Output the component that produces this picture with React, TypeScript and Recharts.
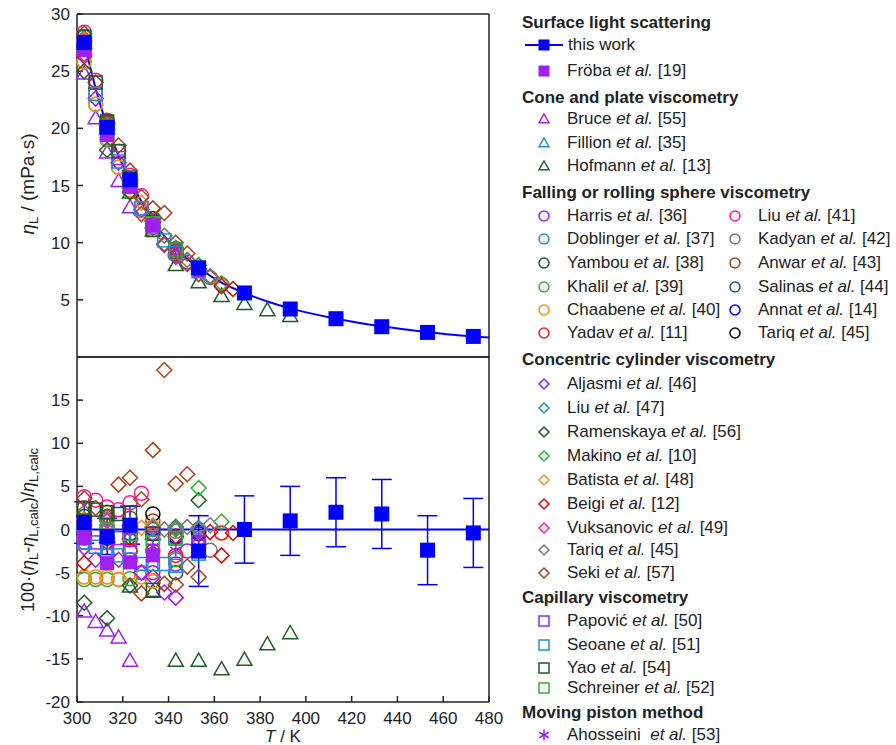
import React from 'react';
import { ComposedChart, Scatter, Line, XAxis, YAxis, ErrorBar } from 'recharts';

// points are [T / K, eta_L / mPa s, deviation / %]
const thisWork = [
  [303.15, 27.5, 0.8], [313.15, 20.1, -0.8], [323.15, 15.5, 0.5], [353.15, 7.8, -2.5],
  [373.15, 5.6, 0.0], [393.15, 4.2, 1.0], [413.15, 3.35, 2.0], [433.15, 2.65, 1.8],
  [453.15, 2.15, -2.4], [473.15, 1.8, -0.4],
];
const thisWorkErr = [2.4, 2.1, 2.2, 4.1, 3.9, 4.0, 4.0, 4.0, 4.0, 4.0];

// correlation drawn through this work
const fitT = [303.15, 308.15, 313.15, 318.15, 323.15, 333.15, 343.15, 353.15, 363.15, 373.15, 383.15, 393.15, 413.15, 433.15, 453.15, 473.15, 480];
const fitEta = [27.5, 23.5, 20.2, 17.6, 15.5, 11.9, 9.5, 7.8, 6.5, 5.6, 4.85, 4.25, 3.35, 2.68, 2.17, 1.8, 1.7];

const froba = [[303.15, 26.9, -0.9], [313.15, 19.4, -3.9], [323.15, 14.9, -3.8], [333.15, 11.5, -3.0]];

const bruce = [[303.15, 24.8, -9.5], [308.15, 20.9, -10.7], [313.15, 17.9, -11.7], [318.15, 15.4, -12.5], [323.15, 13.1, -15.2]];
const fillion = [[303.15, 27.5, 0.6], [313.15, 20.0, -0.8], [323.15, 15.3, -0.5], [333.15, 11.8, -0.5], [343.15, 9.5, 0.2]];
const hofmann = [[323.15, 14.4, -6.6], [333.15, 11.1, -7.2], [343.15, 8.05, -15.2], [353.15, 6.55, -15.2], [363.15, 5.35, -16.2], [373.15, 4.65, -15.1], [383.15, 4.1, -13.3], [393.15, 3.6, -12.0]];

const harris = [[303.15, 26.9, -1.5], [313.15, 19.6, -3.0], [323.15, 14.9, -3.5], [328.15, 12.9, -5.0], [333.15, 11.3, -5.0], [343.15, 9.1, -4.0], [348.15, 8.3, -2.5]];
const doblinger = [[303.15, 27.0, -1.0], [313.15, 19.9, -1.5], [323.15, 15.2, -1.2], [333.15, 11.9, 0.0], [343.15, 9.4, -1.0], [353.15, 7.6, -1.0]];
const yambou = [[303.15, 27.7, 1.5], [313.15, 20.5, 1.5], [323.15, 15.0, -2.5], [333.15, 11.2, -6.0], [343.15, 9.0, -5.0]];
const khalil = [[303.15, 25.8, -5.8], [308.15, 22.1, -5.8], [313.15, 19.0, -5.8], [318.15, 16.6, -5.8], [323.15, 14.5, -5.7], [333.15, 11.2, -6.0], [343.15, 9.2, -3.5]];
const chaabene = [[303.15, 25.8, -5.5], [308.15, 22.1, -5.5], [313.15, 19.1, -5.5], [318.15, 16.6, -5.8], [323.15, 14.6, -5.0], [328.15, 12.8, -5.5], [333.15, 11.2, -6.0]];
const yadav = [[303.15, 27.1, -0.8], [313.15, 19.9, -1.5], [323.15, 15.0, -2.5], [333.15, 11.6, -2.5], [343.15, 9.2, -3.0], [353.15, 7.6, -1.5], [363.15, 6.35, -0.4]];
const liu41 = [[303.15, 28.4, 3.8], [308.15, 24.2, 3.4], [313.15, 20.7, 2.6], [318.15, 18.0, 2.3], [323.15, 15.9, 3.1], [328.15, 14.1, 4.2]];
const kadyan = [[343.15, 9.5, -0.2], [353.15, 7.7, 0.0], [358.15, 6.95, -2.4]];
const anwar = [[303.15, 28.0, 2.5], [313.15, 20.6, 2.0], [323.15, 15.6, 1.3], [333.15, 12.0, 1.0]];
const salinas = [[303.15, 27.4, 0.3], [313.15, 20.2, 0.0], [323.15, 15.4, 0.2], [333.15, 11.8, -0.5]];
const annat = [[303.15, 27.2, -0.5], [313.15, 20.0, -1.0], [323.15, 15.3, -0.5], [333.15, 11.9, 0.1], [343.15, 9.4, -0.8], [353.15, 7.7, -0.5]];
const tariqSphere = [[333.15, 12.1, 1.8], [353.15, 7.7, -0.3]];

const aljasmi = [[303.15, 26.5, -2.1], [308.15, 22.6, -3.5], [318.15, 17.0, -3.5], [328.15, 12.9, -5.0], [333.15, 11.3, -5.5], [338.15, 9.8, -7.3], [343.15, 8.75, -7.9]];
const liu47 = [[313.15, 20.2, 0.0], [323.15, 15.4, 0.1], [333.15, 11.9, 0.2], [343.15, 9.5, 0.1], [353.15, 7.7, 0.0]];
const ramenskaya = [[303.15, 25.0, -8.5], [313.15, 18.1, -10.3], [323.15, 14.4, -6.5], [333.15, 11.9, 0.3], [343.15, 9.5, 0.3], [353.15, 8.0, 3.4]];
const makino = [[303.15, 27.5, 0.5], [313.15, 20.3, 0.5], [323.15, 15.5, 0.5], [333.15, 11.9, 0.3], [343.15, 9.5, 0.2], [353.15, 8.05, 4.8], [363.15, 6.45, 0.9]];
const batista = [[303.15, 27.7, 1.2], [313.15, 20.4, 1.0], [323.15, 15.5, 0.5], [328.15, 13.5, 0.2], [333.15, 11.95, 0.5]];
const beigi = [[303.15, 26.3, -3.9], [313.15, 19.9, -1.5], [323.15, 15.2, -1.0], [343.15, 9.4, -0.8], [358.15, 7.0, -0.3], [363.15, 6.2, -3.0], [368.15, 5.95, -0.4]];
const vuksanovic = [[303.15, 27.6, 1.0], [313.15, 20.4, 1.0], [323.15, 15.4, 0.3], [333.15, 11.8, -0.5]];
const tariqCyl = [[303.15, 27.9, 2.0], [313.15, 20.4, 1.2], [323.15, 15.5, 0.5], [333.15, 11.9, 0.2], [338.15, 10.6, 0.0], [343.15, 9.5, 0.0], [348.15, 8.5, 0.3], [353.15, 7.7, 0.2], [358.15, 7.05, 0.5]];
const seki = [
  [303.15, 28.3, 3.6], [308.15, 24.0, 2.5], [313.15, 20.5, 1.5], [318.15, 18.5, 5.2], [323.15, 16.3, 6.0],
  [328.15, 14.0, 3.5], [333.15, 13.0, 9.2], [338.15, 12.6, 18.5], [343.15, 10.0, 5.3], [348.15, 9.05, 6.4],
  [328.15, 12.5, -7.4], [338.15, 9.9, -6.3], [343.15, 8.9, -6.4], [348.15, 8.15, -4.3], [353.15, 7.25, -5.5],
];

const papovic = [[303.15, 26.9, -1.0], [308.15, 23.0, -1.5], [313.15, 19.9, -1.5], [318.15, 17.4, -1.0], [323.15, 15.2, -1.2], [333.15, 11.8, -1.0], [343.15, 9.4, -1.0], [353.15, 7.6, -1.5]];
const seoane = [[303.15, 27.0, -1.5], [308.15, 23.0, -2.0], [313.15, 19.6, -3.0], [318.15, 17.1, -3.0], [323.15, 14.9, -3.5], [328.15, 13.0, -4.0], [333.15, 11.4, -4.0], [338.15, 10.2, -4.0], [343.15, 9.1, -4.2], [353.15, 7.5, -2.8]];
const yao = [[303.15, 28.0, 2.5], [308.15, 24.0, 2.3], [313.15, 20.6, 2.0], [318.15, 18.0, 1.8], [323.15, 15.7, 2.0], [333.15, 11.8, -0.5], [333.15, 11.1, -7.0], [343.15, 9.4, -1.0]];
const schreiner = [[303.15, 27.4, 0.5], [313.15, 20.2, 0.0], [323.15, 15.3, -0.5], [333.15, 11.7, -1.5], [343.15, 9.4, -1.0]];
const ahosseini = [[333.15, 11.7, -2.0], [343.15, 9.3, -2.4], [353.15, 7.6, -1.0]];

const xTicks = [300, 320, 340, 360, 380, 400, 420, 440, 460, 480];
const etaTicks = [5, 10, 15, 20, 25, 30];
const devTicks = [-20, -15, -10, -5, 0, 5, 10, 15];

const PURPLE = '#a020f0';
const LTBLUE = '#1e90d8';
const DKGREEN = '#1e5c2a';
const GREEN = '#33b233';
const ORANGE = '#ff8c1a';
const RED = '#ff1a1a';
const BROWN = '#a4441c';
const GREY = '#777777';
const BLUE = '#0000ff';
const FONT = '"Liberation Sans", Arial, Helvetica, sans-serif';
const AXIS = '#222';

type Kind = 'circle' | 'triangle' | 'diamond' | 'square' | 'filled' | 'star';

const series: { id: string; name: string; ref: string; color: string; kind: Kind; pts: number[][] }[] = [
  { id: 'bruce', name: 'Bruce', ref: '[55]', color: PURPLE, kind: 'triangle', pts: bruce },
  { id: 'fillion', name: 'Fillion', ref: '[35]', color: LTBLUE, kind: 'triangle', pts: fillion },
  { id: 'hofmann', name: 'Hofmann', ref: '[13]', color: DKGREEN, kind: 'triangle', pts: hofmann },
  { id: 'harris', name: 'Harris', ref: '[36]', color: PURPLE, kind: 'circle', pts: harris },
  { id: 'doblinger', name: 'Doblinger', ref: '[37]', color: LTBLUE, kind: 'circle', pts: doblinger },
  { id: 'yambou', name: 'Yambou', ref: '[38]', color: DKGREEN, kind: 'circle', pts: yambou },
  { id: 'khalil', name: 'Khalil', ref: '[39]', color: GREEN, kind: 'circle', pts: khalil },
  { id: 'chaabene', name: 'Chaabene', ref: '[40]', color: ORANGE, kind: 'circle', pts: chaabene },
  { id: 'yadav', name: 'Yadav', ref: '[11]', color: RED, kind: 'circle', pts: yadav },
  { id: 'liu41', name: 'Liu', ref: '[41]', color: '#ff1a9c', kind: 'circle', pts: liu41 },
  { id: 'kadyan', name: 'Kadyan', ref: '[42]', color: GREY, kind: 'circle', pts: kadyan },
  { id: 'anwar', name: 'Anwar', ref: '[43]', color: BROWN, kind: 'circle', pts: anwar },
  { id: 'salinas', name: 'Salinas', ref: '[44]', color: '#1f5a8c', kind: 'circle', pts: salinas },
  { id: 'annat', name: 'Annat', ref: '[14]', color: BLUE, kind: 'circle', pts: annat },
  { id: 'tariqS', name: 'Tariq', ref: '[45]', color: '#000000', kind: 'circle', pts: tariqSphere },
  { id: 'aljasmi', name: 'Aljasmi', ref: '[46]', color: PURPLE, kind: 'diamond', pts: aljasmi },
  { id: 'liu47', name: 'Liu', ref: '[47]', color: LTBLUE, kind: 'diamond', pts: liu47 },
  { id: 'ramenskaya', name: 'Ramenskaya', ref: '[56]', color: DKGREEN, kind: 'diamond', pts: ramenskaya },
  { id: 'makino', name: 'Makino', ref: '[10]', color: GREEN, kind: 'diamond', pts: makino },
  { id: 'batista', name: 'Batista', ref: '[48]', color: ORANGE, kind: 'diamond', pts: batista },
  { id: 'beigi', name: 'Beigi', ref: '[12]', color: '#d01010', kind: 'diamond', pts: beigi },
  { id: 'vuksanovic', name: 'Vuksanovic', ref: '[49]', color: '#ff1ad1', kind: 'diamond', pts: vuksanovic },
  { id: 'tariqC', name: 'Tariq', ref: '[45]', color: GREY, kind: 'diamond', pts: tariqCyl },
  { id: 'seki', name: 'Seki', ref: '[57]', color: BROWN, kind: 'diamond', pts: seki },
  { id: 'papovic', name: 'Papović', ref: '[50]', color: PURPLE, kind: 'square', pts: papovic },
  { id: 'seoane', name: 'Seoane', ref: '[51]', color: LTBLUE, kind: 'square', pts: seoane },
  { id: 'yao', name: 'Yao', ref: '[54]', color: DKGREEN, kind: 'square', pts: yao },
  { id: 'schreiner', name: 'Schreiner', ref: '[52]', color: GREEN, kind: 'square', pts: schreiner },
  { id: 'ahosseini', name: 'Ahosseini\u00a0', ref: '[53]', color: PURPLE, kind: 'star', pts: ahosseini },
  { id: 'froba', name: 'Fröba', ref: '[19]', color: PURPLE, kind: 'filled', pts: froba },
];

const plotSize: Record<Kind, number> = { circle: 14, triangle: 15, diamond: 15, square: 13, filled: 14, star: 13 };
const legendSize: Record<Kind, number> = { circle: 10, triangle: 10, diamond: 10, square: 10, filled: 11, star: 11 };

const Marker = ({ kind, color, cx, cy, s }: { kind: Kind; color: string; cx: number; cy: number; s: number }) => {
  const h = s / 2;
  const sw = 1.5;
  if (cx == null || cy == null) return null;
  switch (kind) {
    case 'circle':
      return <circle cx={cx} cy={cy} r={h} fill="none" stroke={color} strokeWidth={sw} />;
    case 'triangle':
      return <polygon points={`${cx},${cy - h} ${cx + h},${cy + h * 0.75} ${cx - h},${cy + h * 0.75}`} fill="none" stroke={color} strokeWidth={sw} />;
    case 'diamond':
      return <polygon points={`${cx},${cy - h} ${cx + h},${cy} ${cx},${cy + h} ${cx - h},${cy}`} fill="none" stroke={color} strokeWidth={sw} />;
    case 'square':
      return <rect x={cx - h} y={cy - h} width={s} height={s} fill="none" stroke={color} strokeWidth={sw} />;
    case 'filled':
      return <rect x={cx - h} y={cy - h} width={s} height={s} fill={color} />;
    case 'star': {
      const dx = h * 0.87, dy = h * 0.5;
      return (
        <g stroke={color} strokeWidth={sw}>
          <line x1={cx} y1={cy - h} x2={cx} y2={cy + h} />
          <line x1={cx - dx} y1={cy - dy} x2={cx + dx} y2={cy + dy} />
          <line x1={cx - dx} y1={cy + dy} x2={cx + dx} y2={cy - dy} />
        </g>
      );
    }
  }
  return null;
};

const etaRows = (pts: number[][]) => pts.map((p) => ({ T: p[0], eta: p[1] }));
const devRows = (pts: number[][]) => pts.map((p) => ({ T: p[0], dev: p[2] }));
const fitData = fitT.map((T, i) => ({ T, eta: fitEta[i] }));
const thisWorkEta = etaRows(thisWork);
const thisWorkDev = thisWork.map((p, i) => ({ T: p[0], dev: p[2], err: thisWorkErr[i] }));
const zeroLine = [{ T: 300, dev: 0 }, { T: 480, dev: 0 }];

const tickStyle = { fontSize: 17, fill: AXIS, fontFamily: FONT };
const lineStyle = { stroke: AXIS, strokeWidth: 1.5 };

const blueSquare = (p: any) => <Marker kind="filled" color={BLUE} cx={p.cx} cy={p.cy} s={15} />;

const frame = (ticks: number[], domain: [number, number], bottomLabels: boolean, bottomHeight: number) => [
  <XAxis key="xt" xAxisId="top" orientation="top" type="number" dataKey="T" domain={[300, 480]} ticks={xTicks}
    interval={0} height={10} tick={false} tickSize={-6} axisLine={lineStyle} tickLine={lineStyle} />,
  <XAxis key="xb" type="number" dataKey="T" domain={[300, 480]} ticks={xTicks} interval={0} height={bottomHeight}
    tick={bottomLabels ? tickStyle : false} tickSize={-6} tickMargin={16} axisLine={lineStyle} tickLine={lineStyle} />,
  <YAxis key="yl" type="number" domain={domain} ticks={ticks} interval={0} width={60} tick={tickStyle}
    tickSize={-6} tickMargin={13} axisLine={lineStyle} tickLine={lineStyle} allowDataOverflow />,
  <YAxis key="yr" yAxisId="r" orientation="right" type="number" domain={domain} ticks={ticks} interval={0} width={10}
    tick={false} tickSize={-6} axisLine={lineStyle} tickLine={lineStyle} allowDataOverflow />,
];

const legendRows: any[] = [
  { head: 'Surface light scattering', y: 23 },
  { work: true, y: 45 },
  { id: 'froba', y: 71 },
  { head: 'Cone and plate viscometry', y: 98 },
  { id: 'bruce', y: 119 }, { id: 'fillion', y: 143 }, { id: 'hofmann', y: 166 },
  { head: 'Falling or rolling sphere viscometry', y: 193 },
  { id: 'harris', y: 216 }, { id: 'doblinger', y: 239 }, { id: 'yambou', y: 263 },
  { id: 'khalil', y: 287 }, { id: 'chaabene', y: 310 }, { id: 'yadav', y: 333 },
  { id: 'liu41', y: 216, col: 2 }, { id: 'kadyan', y: 239, col: 2 }, { id: 'anwar', y: 263, col: 2 },
  { id: 'salinas', y: 287, col: 2 }, { id: 'annat', y: 310, col: 2 }, { id: 'tariqS', y: 333, col: 2 },
  { head: 'Concentric cylinder viscometry', y: 360 },
  { id: 'aljasmi', y: 384 }, { id: 'liu47', y: 408 }, { id: 'ramenskaya', y: 432 }, { id: 'makino', y: 456 },
  { id: 'batista', y: 480 }, { id: 'beigi', y: 504 }, { id: 'vuksanovic', y: 528 }, { id: 'tariqC', y: 550 },
  { id: 'seki', y: 573 },
  { head: 'Capillary viscometry', y: 598 },
  { id: 'papovic', y: 621 }, { id: 'seoane', y: 645 }, { id: 'yao', y: 668 }, { id: 'schreiner', y: 688 },
  { head: 'Moving piston method', y: 713 },
  { id: 'ahosseini', y: 735 },
];

const Legend = () => (
  <div style={{ position: 'absolute', left: 0, top: 0, fontFamily: FONT, fontSize: 17, color: '#222' }}>
    {legendRows.map((r, i) => {
      const top = r.y - 10;
      if (r.head) {
        return <div key={i} style={{ position: 'absolute', left: 522, top, whiteSpace: 'nowrap', fontWeight: 'bold', lineHeight: '20px' }}>{r.head}</div>;
      }
      if (r.work) {
        return (
          <div key={i} style={{ position: 'absolute', left: 524, top, whiteSpace: 'nowrap', lineHeight: '20px', display: 'flex' }}>
            <svg width={40} height={20}>
              <line x1={1} y1={10} x2={39} y2={10} stroke={BLUE} strokeWidth={2} />
              <Marker kind="filled" color={BLUE} cx={20} cy={10} s={11} />
            </svg>
            <span style={{ marginLeft: 4 }}>this work</span>
          </div>
        );
      }
      const s = series.find((x) => x.id === r.id)!;
      const mx = r.col === 2 ? 735 : 544;
      return (
        <div key={i} style={{ position: 'absolute', left: mx - 10, top, whiteSpace: 'nowrap', lineHeight: '20px', display: 'flex' }}>
          <svg width={20} height={20}>
            <Marker kind={s.kind} color={s.color} cx={10} cy={10} s={legendSize[s.kind]} />
          </svg>
          <span style={{ marginLeft: 13 }}>{s.name} <i>et al.</i> {s.ref}</span>
        </div>
      );
    })}
  </div>
);

const Titles = () => (
  <svg width={896} height={745} style={{ position: 'absolute', left: 0, top: 0, pointerEvents: 'none' }}>
    <g fontFamily={FONT} fill={AXIS}>
      <text transform="translate(34,184) rotate(-90)" textAnchor="middle" fontSize={19}>
        <tspan fontStyle="italic">η</tspan>
        <tspan fontSize={13} dy={4}>L</tspan>
        <tspan dy={-4}> / (mPa·s)</tspan>
      </text>
      <text transform="translate(34,530) rotate(-90)" textAnchor="middle" fontSize={18}>
        <tspan>100·(</tspan>
        <tspan fontStyle="italic">η</tspan>
        <tspan fontSize={13} dy={4}>L</tspan>
        <tspan dy={-4}>-</tspan>
        <tspan fontStyle="italic">η</tspan>
        <tspan fontSize={13} dy={4}>L,calc</tspan>
        <tspan dy={-4}>)/</tspan>
        <tspan fontStyle="italic">η</tspan>
        <tspan fontSize={13} dy={4}>L,calc</tspan>
      </text>
      <text x={283} y={742} textAnchor="middle" fontSize={17}>
        <tspan fontStyle="italic">T</tspan>
        <tspan> / K</tspan>
      </text>
    </g>
  </svg>
);

export default function App() {
  return (
    <div style={{ position: 'absolute', left: 0, top: 0, width: 896, height: 745, background: '#fff', overflow: 'hidden' }}>
      <div style={{ position: 'absolute', left: 0, top: 0 }}>
        <ComposedChart width={520} height={360} margin={{ top: 4, right: 21, bottom: 0, left: 17 }}>
          {frame(etaTicks, [0, 30], false, 3)}
          {series.map((s) => (
            <Scatter key={s.id} data={etaRows(s.pts)} dataKey="eta" isAnimationActive={false}
              shape={(p: any) => <Marker kind={s.kind} color={s.color} cx={p.cx} cy={p.cy} s={plotSize[s.kind]} />} />
          ))}
          <Line data={fitData} dataKey="eta" type="monotone" stroke={BLUE} strokeWidth={2} dot={false} isAnimationActive={false} />
          <Scatter data={thisWorkEta} dataKey="eta" isAnimationActive={false} shape={blueSquare} />
        </ComposedChart>
      </div>
      <div style={{ position: 'absolute', left: 0, top: 347 }}>
        <ComposedChart width={520} height={398} margin={{ top: 0, right: 21, bottom: 0, left: 17 }}>
          {frame(devTicks, [-20, 20], true, 43)}
          {series.map((s) => (
            <Scatter key={s.id} data={devRows(s.pts)} dataKey="dev" isAnimationActive={false}
              shape={(p: any) => <Marker kind={s.kind} color={s.color} cx={p.cx} cy={p.cy} s={plotSize[s.kind]} />} />
          ))}
          <Line data={zeroLine} dataKey="dev" type="linear" stroke={BLUE} strokeWidth={2} dot={false} isAnimationActive={false} />
          <Scatter data={thisWorkDev} dataKey="dev" isAnimationActive={false} shape={blueSquare}>
            <ErrorBar dataKey="err" direction="y" width={10} stroke={BLUE} strokeWidth={1.5} />
          </Scatter>
        </ComposedChart>
      </div>
      <Titles />
      <Legend />
    </div>
  );
}
